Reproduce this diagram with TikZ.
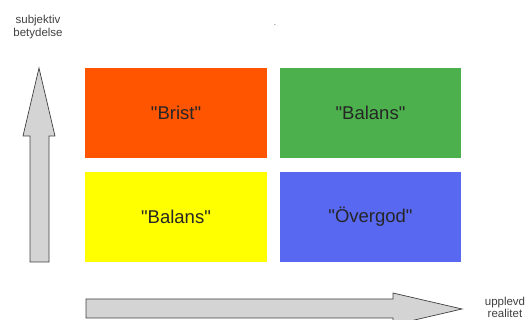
\documentclass[tikz,border=0pt]{standalone}
\usepackage{fontspec}
\setmainfont{Liberation Sans}[Ligatures=TeXOff]
\begin{document}
\begin{tikzpicture}[x=1pt,y=-1pt,
  cell/.style={anchor=north west,minimum width=182pt,minimum height=90pt,inner sep=0pt,outer sep=0pt,font=\fontsize{18.5}{20}\selectfont,text=black!85},
  axisarrow/.style={draw=black!75,line width=0.7pt,fill=black!17,line join=miter},
  axlabel/.style={font=\fontsize{11.5}{12.5}\selectfont,text=black!75,align=center,inner sep=0pt}]
\clip (0,0) rectangle (531,320);
\useasboundingbox (0,0) rectangle (531,320);
\definecolor{cOrange}{HTML}{FF5500}
\definecolor{cGreen}{HTML}{4CB04C}
\definecolor{cYellow}{HTML}{FFFF00}
\definecolor{cBlue}{HTML}{5868F0}
\node[cell,fill=cOrange] (brist) at (85,68) {"Brist"};
\node[cell,fill=cGreen,minimum width=181pt] (balans1) at (280,68) {"Balans"};
\node[cell,fill=cYellow] (balans2) at (85,172) {"Balans"};
\node[cell,fill=cBlue,minimum width=181pt] (overgod) at (280,172) {"Övergod"};
% vertical axis arrow
\draw[axisarrow] (30,262) -- (30,136) -- (23,136) -- (39,68) -- (55,136) -- (49,136) -- (49,262) -- cycle;
% horizontal axis arrow
\draw[axisarrow] (86,299) -- (393,299) -- (393,293) -- (462,309) -- (393,325) -- (393,318) -- (86,318) -- cycle;
\node[axlabel] (ylab) at (38,27) {subjektiv\\betydelse};
\node[axlabel] (xlab) at (505,307.5) {upplevd\\realitet};
\node[inner sep=0pt,font=\fontsize{8}{8}\selectfont,text=black!70] (dot) at (275,25) {.};
\end{tikzpicture}
\end{document}
